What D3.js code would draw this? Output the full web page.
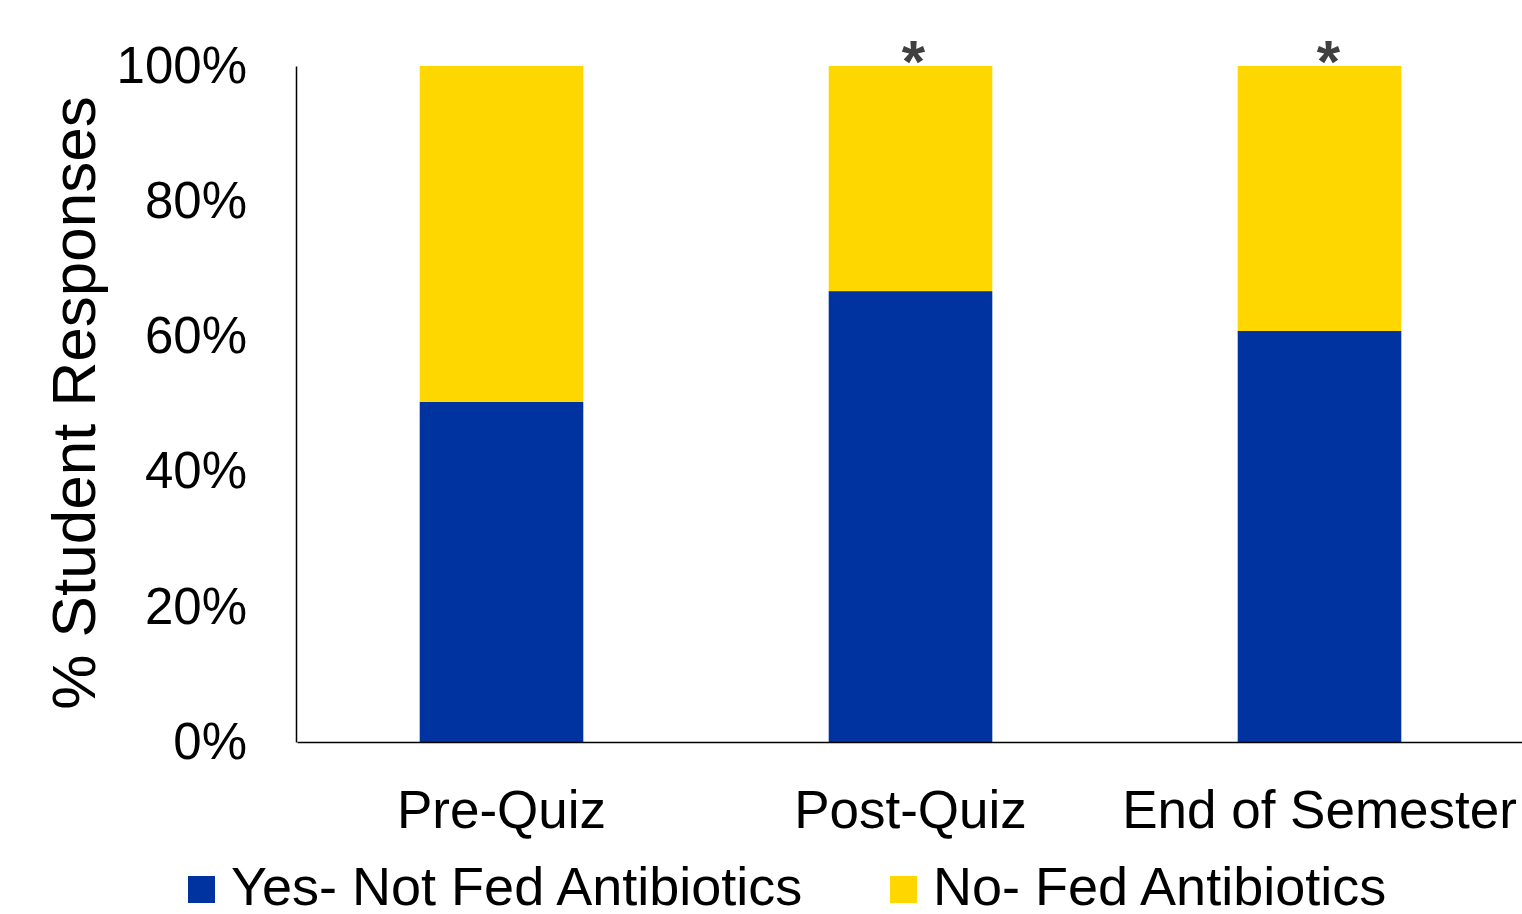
<!DOCTYPE html>
<html>
<head>
<meta charset="utf-8">
<script src="https://cdn.jsdelivr.net/npm/d3@7/dist/d3.min.js"></script>
<style>
  html, body { margin: 0; padding: 0; background: #fff; }
  svg { display: block; font-family: "Liberation Sans", Arial, sans-serif; }
</style>
</head>
<body>
<svg id="chart" width="1522" height="914"></svg>
<script>
// ---- data ----
const categories = ["Pre-Quiz", "Post-Quiz", "End of Semester"];
const seriesNames = ["Yes- Not Fed Antibiotics", "No- Fed Antibiotics"];
const yesValues = [50.3, 66.7, 60.8];
const noValues = [49.7, 33.3, 39.2];
const significance = ["", "*", "*"];
const yTicks = [0, 20, 40, 60, 80, 100];
const tickLabels = ["0%", "20%", "40%", "60%", "80%", "100%"];
const colors = ["#0033A0", "#FFD700"];

// ---- layout ----
const svg = d3.select("#chart");
const mLeft = 297, mRight = 1524, mTop = 66, mBottom = 742;

const x = d3.scaleBand().domain(categories).range([mLeft, mRight]).paddingInner(0).paddingOuter(0);
const y = d3.scaleLinear().domain([0, 100]).range([mBottom, mTop]);
const barW = x.bandwidth() * 0.4;

const rows = categories.map((c, i) => ({ cat: c, yes: yesValues[i], no: noValues[i], sig: significance[i], idx: i }));
const stack = d3.stack().keys(["yes", "no"])(rows);

// bars
svg.append("g").selectAll("g").data(stack).join("g")
  .attr("fill", (d, i) => colors[i])
  .selectAll("rect").data(d => d).join("rect")
  .attr("x", d => x(d.data.cat) + x.bandwidth() / 2 - barW / 2)
  .attr("width", barW)
  .attr("y", d => y(d[1]))
  .attr("height", d => y(d[0]) - y(d[1]));

// y axis
const yAxis = d3.axisLeft(y).tickValues(yTicks).tickSize(0).tickPadding(49)
  .tickFormat((d, i) => tickLabels[i]);
const gy = svg.append("g").attr("transform", `translate(${mLeft - 1},0)`).call(yAxis);
gy.select(".domain").attr("stroke", "#000").attr("stroke-width", 1.5);
gy.selectAll("text").attr("font-size", 51).attr("fill", "#000")
  .attr("font-family", "Liberation Sans, Arial, sans-serif");

// x axis
const xAxis = d3.axisBottom(x).tickSize(0).tickPadding(48);
const gx = svg.append("g").attr("transform", `translate(0,${mBottom})`).call(xAxis);
gx.select(".domain").attr("stroke", "#000").attr("stroke-width", 1.5);
gx.selectAll("text").attr("font-size", 53).attr("fill", "#000")
  .attr("font-family", "Liberation Sans, Arial, sans-serif");

// significance asterisks
const sigShift = [0, 3, 9];
svg.append("g").selectAll("text").data(rows.filter(r => r.sig)).join("text")
  .attr("x", d => x(d.cat) + x.bandwidth() / 2 + sigShift[d.idx])
  .attr("y", 82)
  .attr("text-anchor", "middle")
  .attr("font-size", 60)
  .attr("font-weight", "bold")
  .attr("fill", "#404040")
  .text(d => d.sig);

// y title
svg.append("text")
  .attr("transform", "translate(95,403) rotate(-90)")
  .attr("text-anchor", "middle")
  .attr("font-size", 62)
  .attr("fill", "#000")
  .text("% Student Responses");

// legend
const legendX = [188, 890];
const lg = svg.append("g").selectAll("g").data(seriesNames).join("g")
  .attr("transform", (d, i) => `translate(${legendX[i]},0)`);
lg.append("rect").attr("x", 0).attr("y", 876).attr("width", 27).attr("height", 27)
  .attr("fill", (d, i) => colors[i]);
lg.append("text").attr("x", 43).attr("y", 905).attr("font-size", 54).attr("fill", "#000").text(d => d);
</script>
</body>
</html>
